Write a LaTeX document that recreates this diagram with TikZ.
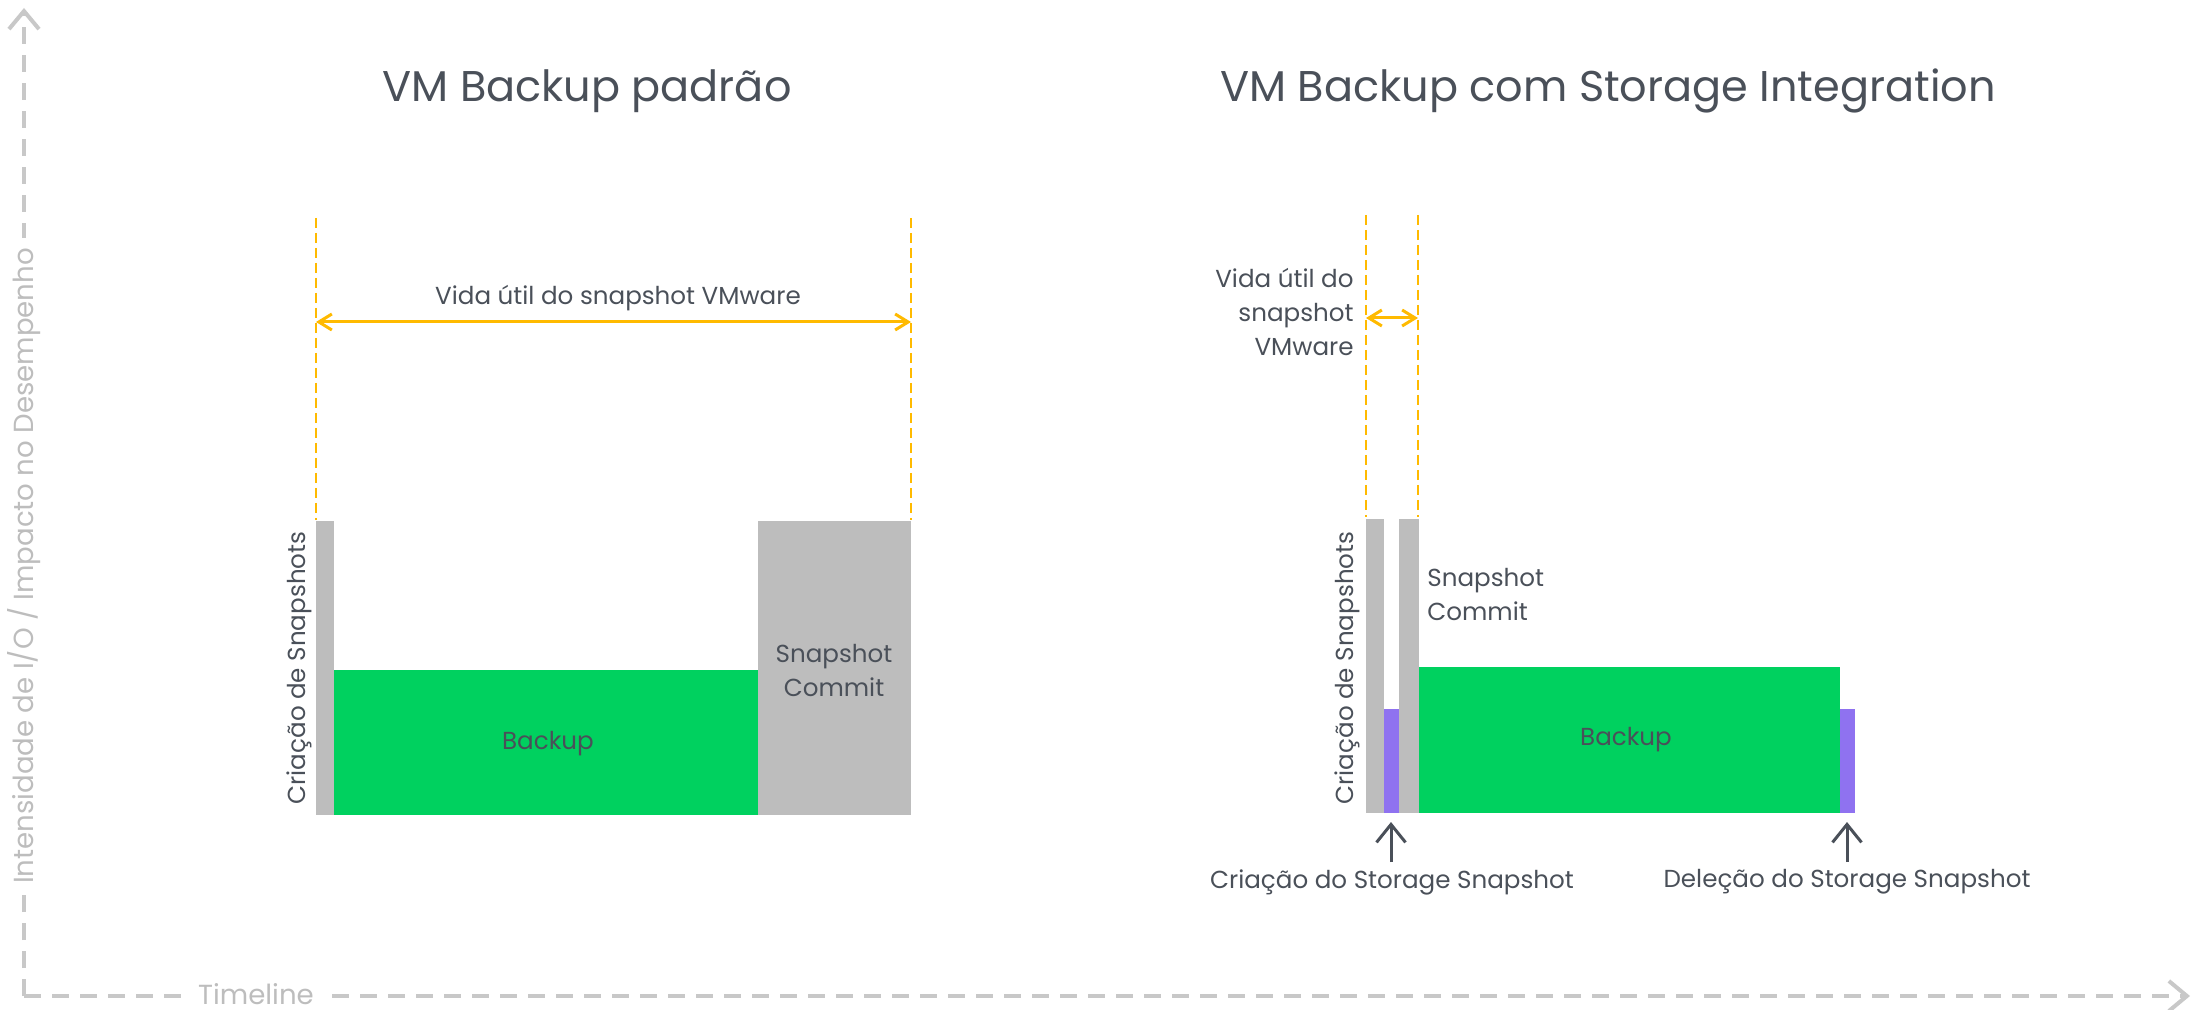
\documentclass[tikz,border=0pt]{standalone}
\usepackage{fontspec}
\setmainfont{Poppins}
\usetikzlibrary{arrows.meta,fit}
\definecolor{txt}{HTML}{4A5059}
\definecolor{axisc}{HTML}{C8C8C8}
\definecolor{axtxt}{HTML}{BDBDBD}
\definecolor{barg}{HTML}{BDBDBD}
\definecolor{bgreen}{HTML}{00D15F}
\definecolor{bpurple}{HTML}{8F72F0}
\definecolor{yel}{HTML}{FFBA00}
\begin{document}
\begin{tikzpicture}[x=0.5pt,y=-0.5pt,
  bar/.style={inner sep=0pt,outer sep=0pt,draw=none},
  axisline/.style={draw=axisc,line width=2pt,dash pattern=on 8.5pt off 5.5pt,-{Straight Barb[length=9pt,width=15pt]}},
  axislabel/.style={fill=white,text=axtxt,font=\fontsize{13.8}{16}\selectfont,inner sep=5pt},
  title/.style={text=txt,font=\fontsize{21.5}{26}\selectfont},
  lbl/.style={text=txt,font=\fontsize{12.3}{17}\selectfont,inner sep=0pt},
  life/.style={draw=yel,line width=1.25pt,dash pattern=on 5pt off 2.5pt},
  lifearrow/.style={draw=yel,line width=1.5pt,{Straight Barb[length=6.5pt,width=8pt]}-{Straight Barb[length=6.5pt,width=8pt]}},
  uparrow/.style={draw=txt,line width=1.5pt,-{Straight Barb[length=9pt,width=14.5pt]}}]
\useasboundingbox (0,0) rectangle (2202,1010);

% axes
\coordinate (O) at (24,996);
\coordinate (Ytip) at (24,8);
\coordinate (Xtip) at (2190,996);
\draw[axisline] (O) -- (Ytip);
\draw[axisline] (O) -- (Xtip);
\node[axislabel,rotate=90] (ylab) at (24,566) {Intensidade de I/O / Impacto no Desempenho};
\node[axislabel,inner ysep=2pt] (xlab) at (256,994) {Timeline};

% titles
\node[title] (t1) at (587,91) {VM Backup padrão};
\node[title] (t2) at (1608,91) {VM Backup com Storage Integration};

% left chart
\node[bar,fill=barg,fit={(316,521) (334,815)}] (lg1) {};
\node[bar,fill=bgreen,fit={(334,670) (758,815)}] (lgreen) {};
\node[bar,fill=barg,fit={(758,521) (911,815)}] (lg2) {};
\coordinate (ld1t) at (316,218); \coordinate (ld1b) at (316,520);
\coordinate (ld2t) at (911,218); \coordinate (ld2b) at (911,520);
\draw[life] (ld1t) -- (ld1b);
\draw[life] (ld2t) -- (ld2b);
\coordinate (la1) at (316,322); \coordinate (la2) at (911,322);
\draw[lifearrow] (la1) -- (la2);
\node[lbl] (llife) at (618,298) {Vida útil do snapshot VMware};
\node[lbl,rotate=90] (lcs) at (299,668) {Criação de Snapshots};
\node[lbl] (lbk) at (548,744) {Backup};
\node[lbl,align=center] (lsc) at (834,671) {Snapshot\\Commit};

% right chart
\node[bar,fill=barg,fit={(1366,519) (1384,813)}] (rg1) {};
\node[bar,fill=bpurple,fit={(1384,709) (1399,813)}] (rp1) {};
\node[bar,fill=barg,fit={(1399,519) (1419,813)}] (rg2) {};
\node[bar,fill=bgreen,fit={(1419,667) (1840,813)}] (rgreen) {};
\node[bar,fill=bpurple,fit={(1840,709) (1855,813)}] (rp2) {};
\coordinate (rd1t) at (1366,215); \coordinate (rd1b) at (1366,517);
\coordinate (rd2t) at (1418,215); \coordinate (rd2b) at (1418,517);
\draw[life] (rd1t) -- (rd1b);
\draw[life] (rd2t) -- (rd2b);
\coordinate (ra1) at (1366,318); \coordinate (ra2) at (1418,318);
\draw[lifearrow] (ra1) -- (ra2);
\node[lbl,align=right,anchor=east] (rlife) at (1354,312) {Vida útil do\\snapshot\\VMware};
\node[lbl,rotate=90] (rcs) at (1347,668) {Criação de Snapshots};
\node[lbl] (rbk) at (1626,740) {Backup};
\node[lbl,align=left,anchor=west] (rsc) at (1427,595) {Snapshot\\Commit};

% storage snapshot markers
\node[lbl] (ccs) at (1392,882) {Criação do Storage Snapshot};
\node[lbl] (dss) at (1847,882) {Deleção do Storage Snapshot};
\coordinate (a1s) at (1391,862); \coordinate (a1e) at (1391,822);
\coordinate (a2s) at (1847,862); \coordinate (a2e) at (1847,822);
\draw[uparrow] (a1s) -- (a1e);
\draw[uparrow] (a2s) -- (a2e);
\end{tikzpicture}
\end{document}
